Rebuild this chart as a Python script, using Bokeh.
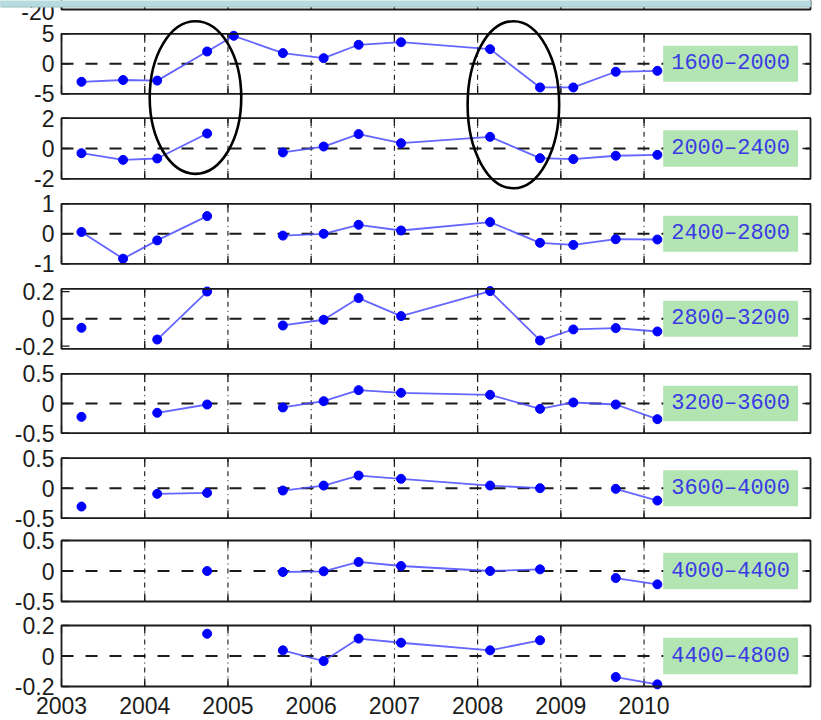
import math
from bokeh.plotting import figure
from bokeh.models import Range1d
from bokeh.core.properties import value
from bokeh.embed import file_html
from bokeh.resources import INLINE

nan = float("nan")

# ---------------- data ----------------
TIMES = [2003.24, 2003.74, 2004.15, 2004.75, 2005.07, 2005.66, 2006.15,
         2006.57, 2007.08, 2008.15, 2008.75, 2009.15, 2009.66, 2010.16]

BANDS = ["1600–2000", "2000–2400", "2400–2800", "2800–3200",
         "3200–3600", "3600–4000", "4000–4400", "4400–4800"]

V_1600_2000 = [-3.0, -2.7, -2.8, 2.05, 4.67, 1.78, 0.94, 3.17, 3.6, 2.44, -3.94, -3.94, -1.33, -1.17]
V_2000_2400 = [-0.31, -0.75, -0.66, 0.99, nan, -0.26, 0.13, 0.95, 0.35, 0.77, -0.64, -0.70, -0.48, -0.42]
V_2400_2800 = [0.06, -0.83, -0.22, 0.59, nan, -0.06, 0.0, 0.30, 0.11, 0.39, -0.30, -0.37, -0.18, -0.19]
V_2800_3200 = [-0.066, nan, -0.152, 0.200, nan, -0.049, -0.007, 0.152, 0.02, 0.203, -0.159, -0.078, -0.068, -0.093]
V_3200_3600 = [-0.225, nan, -0.157, -0.017, nan, -0.067, 0.039, 0.225, 0.18, 0.146, -0.09, 0.017, -0.017, -0.264]
V_3600_4000 = [-0.306, nan, -0.094, -0.078, nan, -0.039, 0.044, 0.211, 0.156, 0.044, 0.0, nan, -0.011, -0.206]
V_4000_4400 = [nan, nan, nan, 0.0, nan, -0.016, -0.005, 0.148, 0.082, 0.0, 0.027, nan, -0.115, -0.219]
V_4400_4800 = [nan, nan, nan, 0.146, nan, 0.037, -0.033, 0.114, 0.087, 0.037, 0.103, nan, -0.138, -0.186]

SERIES = [V_1600_2000, V_2000_2400, V_2400_2800, V_2800_3200,
          V_3200_3600, V_3600_4000, V_4000_4400, V_4400_4800]

Y_LIMITS = [(-5, 5), (-2, 2), (-1, 1), (-0.22, 0.22),
            (-0.5, 0.5), (-0.5, 0.5), (-0.5, 0.5), (-0.2, 0.2)]
Y_TICKS = [[-5, 0, 5], [-2, 0, 2], [-1, 0, 1], [-0.2, 0, 0.2],
           [-0.5, 0, 0.5], [-0.5, 0, 0.5], [-0.5, 0, 0.5], [-0.2, 0, 0.2]]

YEAR_TICKS = [2003, 2004, 2005, 2006, 2007, 2008, 2009, 2010]
GRID_YEARS = [2004, 2005, 2006, 2007, 2008, 2009, 2010]
X_LIMITS = (2003, 2012)

# partially visible panel above (cut off)
STUB_LIMITS = (-20, 20)
STUB_TICKS = [-20]

# highlighting ellipses (in x years / first-panel units)
ELLIPSE_X = [2004.61, 2008.43]
ELLIPSE_Y = [-5.62, -6.82]
ELLIPSE_W = [1.10, 1.10]
ELLIPSE_H = [25.45, 27.83]

LABEL_X0, LABEL_X1 = 2010.23, 2011.85

# ---------------- layout (canvas px) ----------------
W, H = 820, 719
AX_L, AX_R = 61, 810          # pixel columns of x = 2003 and x = 2012
PANEL_TOP = [33.3, 117.7, 203.3, 288.3, 373.3, 457.7, 540.0, 625.0]
PANEL_BOT = [93.3, 178.3, 263.3, 348.3, 432.7, 517.7, 601.0, 686.0]
STUB_TOP, STUB_BOT = -51.0, 9.0
TOP_BAND_PX = (-2.0, 6.5)     # light blue strip of the screenshot above the chart

sx = (AX_R - AX_L) / (X_LIMITS[1] - X_LIMITS[0])
x_start = X_LIMITS[0] - AX_L / sx
x_end = X_LIMITS[1] + (W - AX_R) / sx


def band_k(lo, hi, top, bot):
    return (hi - lo) / (bot - top)


def band_range(lo, hi, top, bot):
    k = band_k(lo, hi, top, bot)
    return Range1d(start=lo - (H - bot) * k, end=hi + top * k)


def fmt(v):
    return f"{v:g}"


p = figure(width=W, height=H, output_backend="svg", toolbar_location=None,
           x_range=Range1d(x_start, x_end), y_range=Range1d(0, 1),
           x_axis_location=None, y_axis_location=None,
           min_border_left=0, min_border_right=0, min_border_top=0, min_border_bottom=0)
p.outline_line_color = None
p.grid.visible = False
p.background_fill_color = "white"
p.border_fill_color = "white"

LABEL_FONT = value("Liberation Sans")
LABEL_SIZE = "23px"
TEXT_COLOR = "#1c1c1c"
FRAME_COLOR = "#1a1a1a"

X0, X1 = X_LIMITS

# ---- stub panel (cut off at top of the picture) ----
p.extra_y_ranges["p0"] = band_range(STUB_LIMITS[0], STUB_LIMITS[1], STUB_TOP, STUB_BOT)
p.text(x=[X0] * len(STUB_TICKS), y=STUB_TICKS, text=[fmt(t) for t in STUB_TICKS],
       x_offset=-7, y_offset=2, text_align="right", text_baseline="middle",
       text_font=LABEL_FONT, text_font_size=LABEL_SIZE, text_color=TEXT_COLOR,
       y_range_name="p0")
p.ray(x=YEAR_TICKS, y=[STUB_LIMITS[0]] * len(YEAR_TICKS), length=8, length_units="screen",
      angle=math.pi / 2, line_color=FRAME_COLOR, line_width=1.3, y_range_name="p0")
p.quad(left=[X0], right=[X1], bottom=[STUB_LIMITS[0]], top=[STUB_LIMITS[1]],
       fill_color=None, line_color=FRAME_COLOR, line_width=1.8, y_range_name="p0")
k0 = band_k(STUB_LIMITS[0], STUB_LIMITS[1], STUB_TOP, STUB_BOT)
p.quad(left=[x_start], right=[X1],
       bottom=[STUB_LIMITS[0] + (STUB_BOT - TOP_BAND_PX[1]) * k0],
       top=[STUB_LIMITS[0] + (STUB_BOT - TOP_BAND_PX[0]) * k0],
       fill_color="#b6dce0", line_color="#9fbfc3", line_width=1, y_range_name="p0")

# ---- panels ----
for i, vals in enumerate(SERIES):
    name = f"p{i + 1}"
    lo, hi = Y_LIMITS[i]
    p.extra_y_ranges[name] = band_range(lo, hi, PANEL_TOP[i], PANEL_BOT[i])
    mid = (lo + hi) / 2
    span = hi - lo
    yt = Y_TICKS[i]

    # dash-dot vertical grid
    p.segment(x0=GRID_YEARS, y0=[lo] * len(GRID_YEARS), x1=GRID_YEARS, y1=[hi] * len(GRID_YEARS),
              line_color="black", line_width=1, line_dash="5 4 1 4", y_range_name=name)
    # dashed zero line
    p.segment(x0=[X0], y0=[0], x1=[X1], y1=[0], line_color=FRAME_COLOR, line_width=2,
              line_dash="12 12", y_range_name=name)
    # ticks (inside, on all four sides)
    p.ray(x=YEAR_TICKS, y=[lo] * len(YEAR_TICKS), length=8, length_units="screen",
          angle=math.pi / 2, line_color=FRAME_COLOR, line_width=1.3, y_range_name=name)
    p.ray(x=YEAR_TICKS, y=[hi] * len(YEAR_TICKS), length=8, length_units="screen",
          angle=-math.pi / 2, line_color=FRAME_COLOR, line_width=1.3, y_range_name=name)
    p.ray(x=[X0] * len(yt), y=yt, length=8, length_units="screen", angle=0,
          line_color=FRAME_COLOR, line_width=1.3, y_range_name=name)
    p.ray(x=[X1] * len(yt), y=yt, length=8, length_units="screen", angle=math.pi,
          line_color=FRAME_COLOR, line_width=1.3, y_range_name=name)

    # data
    p.line(x=TIMES, y=vals, line_color="#4a4aff", line_width=1.8, line_alpha=0.85,
           y_range_name=name)
    p.scatter(x=TIMES, y=vals, size=9, fill_color="#0000ff", line_color="#0000ff",
              y_range_name=name)

    # label box
    p.quad(left=[LABEL_X0], right=[LABEL_X1], bottom=[mid - 0.3 * span], top=[mid + 0.3 * span],
           fill_color="#b3e5b3", line_color=None, y_range_name=name)
    p.text(x=[(LABEL_X0 + LABEL_X1) / 2], y=[mid], text=[BANDS[i]],
           text_font=value("Liberation Mono"), text_font_size="22px",
           text_color="#3a3ae4", text_align="center", text_baseline="middle",
           y_range_name=name)

    # panel frame
    p.quad(left=[X0], right=[X1], bottom=[lo], top=[hi], fill_color=None,
           line_color=FRAME_COLOR, line_width=1.8, y_range_name=name)

    # y tick labels
    p.text(x=[X0] * len(yt), y=yt, text=[fmt(t) for t in yt],
           x_offset=-7, text_align="right", text_baseline="middle",
           text_font=LABEL_FONT, text_font_size=LABEL_SIZE, text_color=TEXT_COLOR,
           y_range_name=name)

# x tick labels under the last panel
last = f"p{len(SERIES)}"
p.text(x=YEAR_TICKS, y=[Y_LIMITS[-1][0]] * len(YEAR_TICKS), text=[str(t) for t in YEAR_TICKS],
       y_offset=10, text_align="center", text_baseline="top",
       text_font=LABEL_FONT, text_font_size=LABEL_SIZE, text_color=TEXT_COLOR,
       y_range_name=last)

# highlight ellipses
p.ellipse(x=ELLIPSE_X, y=ELLIPSE_Y, width=ELLIPSE_W, height=ELLIPSE_H,
          fill_color=None, line_color="black", line_width=2.6, y_range_name="p1")

open("out.html", "w").write(file_html(p, INLINE))
